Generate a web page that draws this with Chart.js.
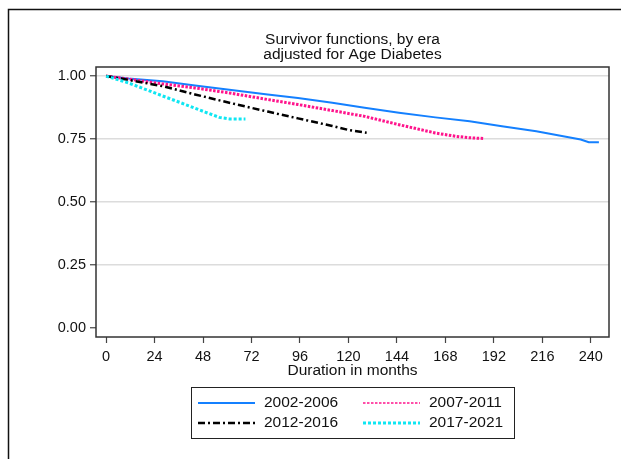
<!DOCTYPE html>
<html>
<head>
<meta charset="utf-8">
<script src="https://cdn.jsdelivr.net/npm/chart.js@4"></script>
<style>
  html, body { margin: 0; padding: 0; background: #fff; }
  #wrap { width: 621px; height: 459px; position: relative; }
</style>
</head>
<body>
<div id="wrap"><canvas id="myChart" width="621" height="459"></canvas></div>
<script>
// survivor curves (months, adjusted survival)
var months0206 = [0, 11, 28, 44, 61, 80, 95, 112, 128, 145, 163, 180, 196, 213, 229, 235, 239, 244];
var surv0206   = [1.0, 0.990, 0.979, 0.963, 0.946, 0.927, 0.913, 0.894, 0.874, 0.854, 0.836, 0.821, 0.801, 0.781, 0.757, 0.748, 0.737, 0.737];

var months0711 = [0, 11, 28, 44, 61, 80, 95, 112, 128, 145, 163, 173, 180, 187];
var surv0711   = [1.0, 0.988, 0.969, 0.953, 0.933, 0.907, 0.887, 0.863, 0.840, 0.807, 0.774, 0.761, 0.755, 0.752];

var months1216 = [0, 11, 28, 44, 61, 80, 95, 112, 120, 129];
var surv1216   = [1.0, 0.985, 0.960, 0.927, 0.894, 0.859, 0.832, 0.802, 0.786, 0.775];

var months1721 = [0, 11, 16, 28, 37, 49, 56, 61, 69];
var surv1721   = [1.0, 0.973, 0.958, 0.921, 0.894, 0.857, 0.836, 0.830, 0.830];

var eraLabels = ['2002-2006', '2007-2011', '2012-2016', '2017-2021'];
var xTicks = [0, 24, 48, 72, 96, 120, 144, 168, 192, 216, 240];
var yTicks = [0, 0.25, 0.5, 0.75, 1];

var FONT = '"Liberation Sans", Arial, Helvetica, sans-serif';

function pts(xs, ys) {
  return xs.map(function (x, i) { return { x: x, y: ys[i] }; });
}

var data = {
  datasets: [{
    label: eraLabels[0],
    data: pts(months0206, surv0206),
    borderColor: 'rgb(20,128,255)',
    borderWidth: 2,
    order: 4
  }, {
    label: eraLabels[1],
    data: pts(months0711, surv0711),
    borderColor: 'rgb(255,20,140)',
    borderWidth: 3,
    borderDash: [2.5, 1.5],
    order: 3
  }, {
    label: eraLabels[2],
    data: pts(months1216, surv1216),
    borderColor: '#000',
    borderWidth: 2.5,
    borderDash: [7, 3, 2, 3],
    order: 2
  }, {
    label: eraLabels[3],
    data: pts(months1721, surv1721),
    borderColor: 'rgb(15,230,242)',
    borderWidth: 3,
    borderDash: [3, 2],
    order: 1
  }]
};

// outer frame, plot frame, titles and the boxed 2x2 legend
var decor = {
  id: 'decor',
  beforeDraw: function (chart) {
    var c = chart.ctx;
    c.save();
    c.fillStyle = '#fff';
    c.fillRect(0, 0, chart.width, chart.height);
    c.strokeStyle = '#111';
    c.lineWidth = 1.5;
    c.beginPath();
    c.moveTo(8.5, chart.height);
    c.lineTo(8.5, 9.5);
    c.lineTo(chart.width, 9.5);
    c.stroke();
    c.restore();
  },
  afterDraw: function (chart) {
    var c = chart.ctx, a = chart.chartArea;
    c.save();
    c.strokeStyle = '#333';
    c.lineWidth = 1.5;
    c.strokeRect(a.left, a.top, a.right - a.left, a.bottom - a.top);

    var cx = (a.left + a.right) / 2;
    c.fillStyle = '#111';
    c.font = '15.5px ' + FONT;
    c.textAlign = 'center';
    c.textBaseline = 'middle';
    c.fillText('Survivor functions, by era', cx, 40);
    c.fillText('adjusted for Age Diabetes', cx, 55);

    // legend
    var bx = 191, by = 387, bw = 323, bh = 51;
    c.fillStyle = '#fff';
    c.fillRect(bx, by, bw, bh);
    c.strokeStyle = '#222';
    c.lineWidth = 1;
    c.strokeRect(bx + 0.5, by + 0.5, bw, bh);
    var cols = [198, 363], rows = [403, 423];
    chart.data.datasets.forEach(function (ds, i) {
      var x0 = cols[i % 2], y0 = rows[Math.floor(i / 2)];
      c.strokeStyle = ds.borderColor;
      c.lineWidth = i === 1 ? 1.5 : ds.borderWidth;
      c.setLineDash(ds.borderDash || []);
      c.beginPath();
      c.moveTo(x0, y0);
      c.lineTo(x0 + 57, y0);
      c.stroke();
      c.setLineDash([]);
      c.fillStyle = '#111';
      c.textAlign = 'left';
      c.fillText(ds.label, x0 + 66, y0);
    });
    c.restore();
  }
};

var config = {
  type: 'line',
  data: data,
  options: {
    responsive: false,
    animation: false,
    events: [],
    layout: { padding: { left: 0, top: 67, right: 12, bottom: 79 } },
    elements: {
      point: { radius: 0 },
      line: { tension: 0, fill: false, borderCapStyle: 'butt' }
    },
    plugins: {
      legend: { display: false },
      tooltip: { enabled: false },
      title: { display: false }
    },
    scales: {
      x: {
        type: 'linear',
        min: -5,
        max: 249,
        afterBuildTicks: function (s) { s.ticks = xTicks.map(function (v) { return { value: v }; }); },
        afterFit: function (s) { s.height = 43; },
        grid: { drawOnChartArea: false, drawTicks: true, tickLength: 6, tickColor: '#444', tickWidth: 1.2 },
        border: { display: false },
        ticks: { color: '#111', font: { family: FONT, size: 14.5 }, padding: 5, maxRotation: 0, autoSkip: false },
        title: { display: true, text: 'Duration in months', color: '#111', font: { family: FONT, size: 15.5 }, padding: 0 }
      },
      y: {
        min: -0.036,
        max: 1.036,
        afterBuildTicks: function (s) { s.ticks = yTicks.map(function (v) { return { value: v }; }); },
        afterFit: function (s) { s.width = 96; },
        grid: {
          color: function (ctx) { return ctx.tick && ctx.tick.value === 0 ? 'rgba(0,0,0,0)' : '#dcdcdc'; },
          lineWidth: 1.5,
          tickLength: 6,
          tickColor: '#444',
          tickWidth: 1.2
        },
        border: { display: false },
        ticks: {
          color: '#111',
          font: { family: FONT, size: 14.5 },
          padding: 4,
          callback: function (v) { return Number(v).toFixed(2); }
        }
      }
    }
  },
  plugins: [decor]
};

var myChart = new Chart(document.getElementById('myChart'), config);
</script>
</body>
</html>
